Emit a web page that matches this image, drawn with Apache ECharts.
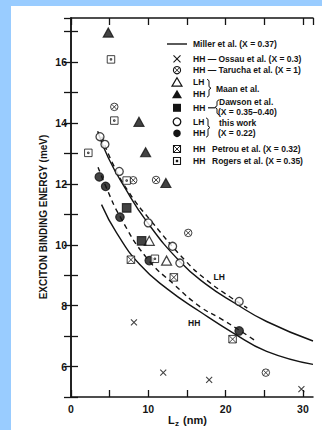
<!DOCTYPE html>
<html>
<head>
<meta charset="utf-8">
<script src="https://cdn.jsdelivr.net/npm/echarts@6/dist/echarts.min.js"></script>
<style>
  html, body { margin: 0; padding: 0; background: #99ccff; }
  #paper { position: absolute; left: 11px; top: 6px; width: 311px; height: 424px; background: #ffffff; }
  #chart { position: absolute; left: 0; top: 0; width: 322px; height: 430px; }
</style>
</head>
<body>
<div id="paper"></div>
<div id="chart"></div>
<script>
// Well width Lz (nm) vs exciton binding energy (meV)
const xTickLabels = [0, 10, 20, 30];
const yTickLabels = [6, 8, 10, 12, 14, 16];

// Theory curves (Miller et al.) for light and heavy holes
const millerLH = [[3.45, 13.73], [4.82, 12.86], [6.98, 11.87], [9.78, 10.77], [14.08, 9.45], [17.53, 8.69], [21.2, 8.08], [25.3, 7.48], [31.3, 6.84]];
const millerHH = [[3.95, 11.32], [5.9, 10.39], [8.9, 9.35], [12.4, 8.56], [16.7, 7.8], [21.0, 7.1], [25.3, 6.5], [31.3, 6.07]];
// Dashed curves through this work's points
const fitLH = [[4.0, 13.55], [5.3, 12.72], [7.5, 11.72], [10.4, 10.77], [14.9, 9.45], [17.5, 8.85], [20.5, 8.3], [22.8, 7.92]];
const fitHH = [[3.5, 12.55], [4.5, 11.92], [6.4, 10.9], [9.78, 9.57], [13.4, 8.68], [16.67, 7.97], [19.25, 7.59], [21.75, 7.2], [24.0, 6.82]];

// Measured points
const ossauHH = [[8.14, 7.45], [11.93, 5.8], [17.87, 5.56], [29.8, 5.26]];
const taruchaHH = [[5.6, 14.53], [8.05, 12.12], [11.0, 12.13], [15.16, 10.39], [25.2, 5.8]];
const maanLH = [[10.12, 10.13], [12.36, 9.48]];
const maanHH = [[4.82, 16.97], [8.79, 14.04], [9.65, 13.04], [12.27, 12.03]];
const dawsonHH = [[7.2, 11.21], [9.13, 10.13]];
const workLH = [[3.75, 13.55], [4.39, 13.3], [6.24, 12.41], [9.99, 10.72], [13.14, 9.95], [14.08, 9.4], [21.75, 8.14]];
const workHH = [[3.66, 12.23], [4.48, 11.92], [6.33, 10.91], [10.12, 9.48], [21.75, 7.17]];
const petrouHH = [[7.75, 9.51], [13.3, 8.93], [20.9, 6.9]];
const rogersHH = [[2.24, 13.02], [5.17, 16.09], [5.6, 14.08], [7.2, 12.11], [10.85, 9.54]];

const ink = '#141414';
const FONT = '"Liberation Sans", Arial, Helvetica, sans-serif';

const SYM = {
  cross: 'path://M0,0L10,10M10,0L0,10',
  circleCross: 'path://M10,5A5,5,0,1,1,0,5A5,5,0,1,1,10,5ZM1.8,1.8L8.2,8.2M8.2,1.8L1.8,8.2',
  boxCross: 'path://M0,0L10,0L10,10L0,10ZM0,0L10,10M10,0L0,10',
  boxDot: 'path://M0,0L10,0L10,10L0,10ZM4,4L6,4L6,6L4,6Z'
};

function curve(name, data, dashed) {
  return {
    name, type: 'line', data, showSymbol: false, smooth: 0.5,
    lineStyle: { color: ink, width: 1.4, type: dashed ? [5, 4] : 'solid' },
    silent: true, z: 2
  };
}
function pts(name, data, symbol, size, filled, bw) {
  return {
    name, type: 'scatter', data, symbol, symbolSize: size,
    itemStyle: { color: filled ? ink : '#ffffff', borderColor: ink, borderWidth: bw || 1.2 },
    z: 5
  };
}

// Legend drawing helpers
const LX = 177, TX = 193, FS = 8.5;
function t(x, y, s) {
  return { type: 'text', x, y, style: { text: s, fill: ink, font: 'bold ' + FS + 'px ' + FONT, verticalAlign: 'middle', textVerticalAlign: 'middle' } };
}
function ln(x1, y1, x2, y2, w) {
  return { type: 'line', shape: { x1, y1, x2, y2 }, style: { stroke: ink, lineWidth: w || 1.1 } };
}
function braceR(x, y1, y2) {
  const m = (y1 + y2) / 2;
  return { type: 'polyline', shape: { points: [[x, y1], [x + 2, y1 + 1.5], [x + 2, m - 1.5], [x + 4, m], [x + 2, m + 1.5], [x + 2, y2 - 1.5], [x, y2]] }, style: { stroke: ink, fill: null, lineWidth: 1 } };
}
function braceL(x, y1, y2) {
  const m = (y1 + y2) / 2;
  return { type: 'polyline', shape: { points: [[x + 4, y1], [x + 2, y1 + 1.5], [x + 2, m - 1.5], [x, m], [x + 2, m + 1.5], [x + 2, y2 - 1.5], [x + 4, y2]] }, style: { stroke: ink, fill: null, lineWidth: 1 } };
}

const yM = 44, yO = 58.8, yT = 70.2, yML = 82.2, yMH = 94.2, yD = 107.8, yWL = 121.8, yWH = 133.3, yP = 149, yR = 161;

const legend = [
  ln(167, yM, 187, yM, 1.4), t(TX, yM, 'Miller et al. (X = 0.37)'),
  ln(LX - 3.5, yO - 3.5, LX + 3.5, yO + 3.5), ln(LX + 3.5, yO - 3.5, LX - 3.5, yO + 3.5), t(TX, yO, 'HH — Ossau et al. (X = 0.3)'),
  { type: 'circle', shape: { cx: LX, cy: yT, r: 3.6 }, style: { stroke: ink, fill: '#fff', lineWidth: 1.1 } },
  ln(LX - 2.3, yT - 2.3, LX + 2.3, yT + 2.3, 0.9), ln(LX + 2.3, yT - 2.3, LX - 2.3, yT + 2.3, 0.9),
  t(TX, yT, 'HH — Tarucha et al. (X = 1)'),
  { type: 'polygon', shape: { points: [[LX, yML - 4.5], [LX + 5, yML + 4], [LX - 5, yML + 4]] }, style: { stroke: ink, fill: '#fff', lineWidth: 1.2 } },
  t(TX, yML, 'LH'),
  { type: 'polygon', shape: { points: [[LX, yMH - 4.5], [LX + 5, yMH + 4], [LX - 5, yMH + 4]] }, style: { fill: ink } },
  t(TX, yMH, 'HH'),
  braceR(207, yML - 3, yMH + 3), t(216, (yML + yMH) / 2 + 1, 'Maan et al.'),
  { type: 'rect', shape: { x: LX - 4, y: yD - 4, width: 8, height: 8 }, style: { fill: ink } },
  t(TX, yD, 'HH'), ln(208, yD, 215, yD, 1.2), braceL(215, yD - 8, yD + 7),
  t(219, yD - 6, 'Dawson et al.'), t(218, yD + 4.5, '(X = 0.35–0.40)'),
  { type: 'circle', shape: { cx: LX, cy: yWL, r: 3.8 }, style: { stroke: ink, fill: '#fff', lineWidth: 1.3 } },
  t(TX, yWL, 'LH'),
  { type: 'circle', shape: { cx: LX, cy: yWH, r: 3.8 }, style: { fill: ink } },
  t(TX, yWH, 'HH'),
  braceR(206, yWL - 4, yWH + 4), t(219, yWL + 1.5, 'this work'), t(218, yWH - 0.5, '(X = 0.22)'),
  { type: 'rect', shape: { x: LX - 3.5, y: yP - 3.5, width: 7, height: 7 }, style: { stroke: ink, fill: '#fff', lineWidth: 1.1 } },
  ln(LX - 3.5, yP - 3.5, LX + 3.5, yP + 3.5, 0.9), ln(LX + 3.5, yP - 3.5, LX - 3.5, yP + 3.5, 0.9),
  t(TX, yP, 'HH'), t(212, yP, 'Petrou et al. (X = 0.32)'),
  { type: 'rect', shape: { x: LX - 3.5, y: yR - 3.5, width: 7, height: 7 }, style: { stroke: ink, fill: '#fff', lineWidth: 1.1 } },
  { type: 'rect', shape: { x: LX - 1.2, y: yR - 1.2, width: 2.4, height: 2.4 }, style: { fill: ink } },
  t(TX, yR, 'HH'), t(212, yR, 'Rogers et al. (X = 0.35)'),
  // axis titles
  { type: 'text', x: 43, y: 217, rotation: Math.PI / 2,
    style: { text: 'EXCITON BINDING ENERGY (meV)', fill: ink, font: 'bold 10px ' + FONT, align: 'center', textAlign: 'center', verticalAlign: 'middle', textVerticalAlign: 'middle' } },
  { type: 'text', x: 168, y: 414,
    style: { text: 'L', fill: ink, font: 'bold 11px ' + FONT, verticalAlign: 'top', textVerticalAlign: 'top' } },
  { type: 'text', x: 175, y: 419,
    style: { text: 'z', fill: ink, font: 'bold 8px ' + FONT, verticalAlign: 'top', textVerticalAlign: 'top' } },
  { type: 'text', x: 180, y: 414,
    style: { text: ' (nm)', fill: ink, font: 'bold 11px ' + FONT, verticalAlign: 'top', textVerticalAlign: 'top' } }
];

const xMin = 0, xMax = 31.3, yMin = 5, yMax = 17.45;
const axisLine = { show: true, lineStyle: { color: ink, width: 1.5 } };
const tick = { show: true, inside: true, length: 7, lineStyle: { color: ink, width: 1.3 } };

const chart = echarts.init(document.getElementById('chart'), null, { renderer: 'svg' });
chart.setOption({
  animation: false,
  backgroundColor: 'transparent',
  grid: { left: 71, right: 9, top: 18, bottom: 33, containLabel: false, outerBoundsMode: 'none' },
  xAxis: [
    {
      type: 'value', min: xMin, max: xMax, interval: 5, position: 'bottom',
      axisLine, axisTick: tick, splitLine: { show: false },
      axisLabel: {
        margin: 6, color: ink, fontSize: 10.5, fontWeight: 'bold', fontFamily: FONT,
        showMaxLabel: false,
        formatter: v => xTickLabels.includes(v) ? String(v) : ''
      }
    },
    {
      type: 'value', min: xMin, max: xMax, interval: 5, position: 'top',
      axisLine, axisTick: tick, axisLabel: { show: false }, splitLine: { show: false }
    }
  ],
  yAxis: [
    {
      type: 'value', min: yMin, max: yMax, interval: 1, position: 'left',
      axisLine, axisTick: tick, splitLine: { show: false },
      axisLabel: {
        margin: 4, color: ink, fontSize: 10.5, fontWeight: 'bold', fontFamily: FONT,
        showMaxLabel: false,
        formatter: v => yTickLabels.includes(v) ? String(v) : ''
      }
    },
    {
      type: 'value', min: yMin, max: yMax, interval: 1, position: 'right',
      axisLine, axisTick: tick, axisLabel: { show: false }, splitLine: { show: false }
    }
  ],
  series: [
    Object.assign(curve('Miller LH', millerLH, false), {
      markPoint: {
        symbol: 'circle', symbolSize: 0, silent: true,
        label: { show: true, position: 'inside', color: ink, fontSize: 8.5, fontWeight: 'bold', fontFamily: FONT, formatter: p => p.name },
        data: [{ name: 'LH', coord: [19.16, 8.94] }]
      }
    }),
    Object.assign(curve('Miller HH', millerHH, false), {
      markPoint: {
        symbol: 'circle', symbolSize: 0, silent: true,
        label: { show: true, position: 'inside', color: ink, fontSize: 8.5, fontWeight: 'bold', fontFamily: FONT, formatter: p => p.name },
        data: [{ name: 'HH', coord: [15.93, 7.43] }]
      }
    }),
    curve('This work LH fit', fitLH, true),
    curve('This work HH fit', fitHH, true),
    pts('Ossau HH', ossauHH, SYM.cross, [6, 6], false, 1.1),
    pts('Tarucha HH', taruchaHH, SYM.circleCross, [7.5, 7.5], false, 1.0),
    pts('Maan LH', maanLH, 'triangle', [10, 9], false, 1.2),
    pts('Maan HH', maanHH, 'triangle', [10, 9], true),
    pts('Dawson HH', dawsonHH, 'rect', [8.5, 8.5], true),
    pts('This work LH', workLH, 'circle', 8, false, 1.3),
    pts('This work HH', workHH, 'circle', 8.5, true),
    pts('Petrou HH', petrouHH, SYM.boxCross, [7.5, 7.5], false, 1.0),
    pts('Rogers HH', rogersHH, SYM.boxDot, [7.5, 7.5], false, 1.0)
  ],
  graphic: { elements: legend }
});
</script>
</body>
</html>
